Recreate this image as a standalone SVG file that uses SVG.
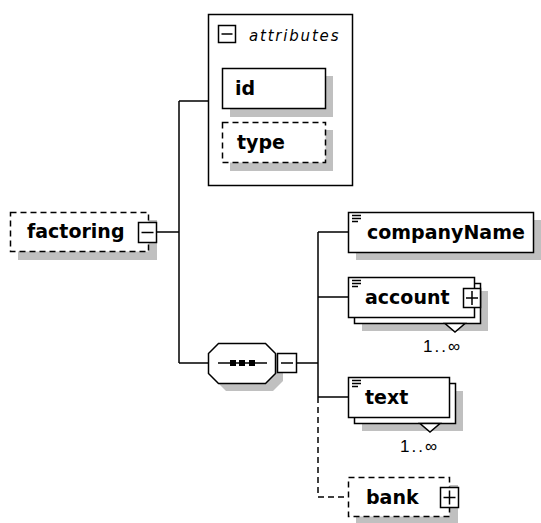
<svg xmlns="http://www.w3.org/2000/svg" width="541" height="523" viewBox="0 0 541 523">
<style>
.box{fill:#fff;stroke:#000;stroke-width:1.5}
.dash{fill:#fff;stroke:#000;stroke-width:1.5;stroke-dasharray:6,4}
.sh{fill:#c0c0c0}
.ln{fill:none;stroke:#000;stroke-width:1.5}
.dl{fill:none;stroke:#000;stroke-width:1.5;stroke-dasharray:6,4}
.lbl{font-family:"DejaVu Sans",Verdana,sans-serif;font-weight:bold;font-size:19px;fill:#000}
.it{font-family:"DejaVu Sans",sans-serif;font-style:italic;font-size:15px;fill:#000;letter-spacing:1.8px}
.occ{font-family:"Liberation Sans",Arial,sans-serif;font-size:17px;fill:#000;letter-spacing:2px}
</style>
<rect width="541" height="523" fill="#fff"/>
<g id="connectors">
<path class="ln" d="M157 232H179M179 101V363M179 101H208M179 363H208"/>
<path class="ln" d="M297 363H318M318 232V397M318 232H348M318 297H348M318 397H348"/>
<path class="dl" d="M318 397V497H348"/>
</g>
<g id="attributes">
<rect class="box" x="208.5" y="14.5" width="144" height="171"/>
<rect class="box" x="218.5" y="25.5" width="17" height="17"/>
<path class="ln" d="M221.5 34H232.5"/>
<text class="it" x="249" y="41">attributes</text>
</g>
<g id="id">
<rect class="sh" x="230" y="76" width="103" height="41"/>
<rect class="box" x="222.5" y="68.5" width="103" height="40"/>
<text class="lbl" x="235" y="95">id</text>
</g>
<g id="type">
<rect class="sh" x="230" y="130" width="103" height="41"/>
<rect class="dash" x="222.5" y="122.5" width="103" height="40"/>
<text class="lbl" x="237" y="149">type</text>
</g>
<g id="factoring">
<rect class="sh" x="18" y="220" width="139" height="40"/>
<rect class="dash" x="10.5" y="212.5" width="138" height="39"/>
<rect class="box" x="138.5" y="222.5" width="18" height="20"/>
<path class="ln" d="M141.5 232.5H153.5"/>
<text class="lbl" x="27" y="238">factoring</text>
</g>
<g id="sequence">
<path class="sh" d="M226 351H273L283 361V381L273 391H226L216 381V361Z"/>
<path class="box" d="M218.5 343.5H265.5L275.5 353.5V373.5L265.5 383.5H218.5L208.5 373.5V353.5Z"/>
<path class="ln" d="M218 363H267"/>
<rect x="230" y="360" width="6" height="6" fill="#000"/>
<rect x="239" y="360" width="6" height="6" fill="#000"/>
<rect x="249" y="360" width="6" height="6" fill="#000"/>
<rect class="box" x="277.5" y="353.5" width="19" height="19"/>
<path class="ln" d="M281 363H293"/>
</g>
<g id="companyName">
<rect class="sh" x="356" y="220" width="185" height="40"/>
<rect class="box" x="348.5" y="212.5" width="185" height="40"/>
<path class="ln" d="M352 215.5H361M352 218.5H361M352 221.5H358"/>
<text class="lbl" x="367" y="239">companyName</text>
</g>
<g id="account">
<rect class="sh" x="362" y="291" width="126" height="40"/>
<rect class="box" x="354.5" y="283.5" width="126" height="40"/>
<rect class="box" x="348.5" y="277.5" width="126" height="40"/>
<path class="ln" d="M352 280.5H361M352 283.5H361M352 286.5H358"/>
<text class="lbl" x="365" y="304">account</text>
<rect class="box" x="463.5" y="288.5" width="17" height="19"/>
<path class="ln" d="M466 298H478M472 291V305"/>
<path class="box" d="M445 323.5H465L455 332Z"/>
<text class="occ" x="423" y="352">1..∞</text>
</g>
<g id="text">
<rect class="sh" x="362" y="391" width="101" height="40"/>
<rect class="box" x="354.5" y="383.5" width="101" height="40"/>
<rect class="box" x="348.5" y="377.5" width="101" height="40"/>
<path class="ln" d="M352 380.5H361M352 383.5H361M352 386.5H358"/>
<text class="lbl" x="365" y="404">text</text>
<path class="box" d="M420 423.5H440L430 432Z"/>
<text class="occ" x="400" y="452">1..∞</text>
</g>
<g id="bank">
<rect class="sh" x="356" y="485" width="102" height="40"/>
<rect class="dash" x="348.5" y="477.5" width="101" height="39"/>
<rect class="box" x="440.5" y="487.5" width="18" height="20"/>
<path class="ln" d="M443.5 497.5H455.5M449.5 490.5V504.5"/>
<text class="lbl" x="366" y="504">bank</text>
</g>
</svg>
